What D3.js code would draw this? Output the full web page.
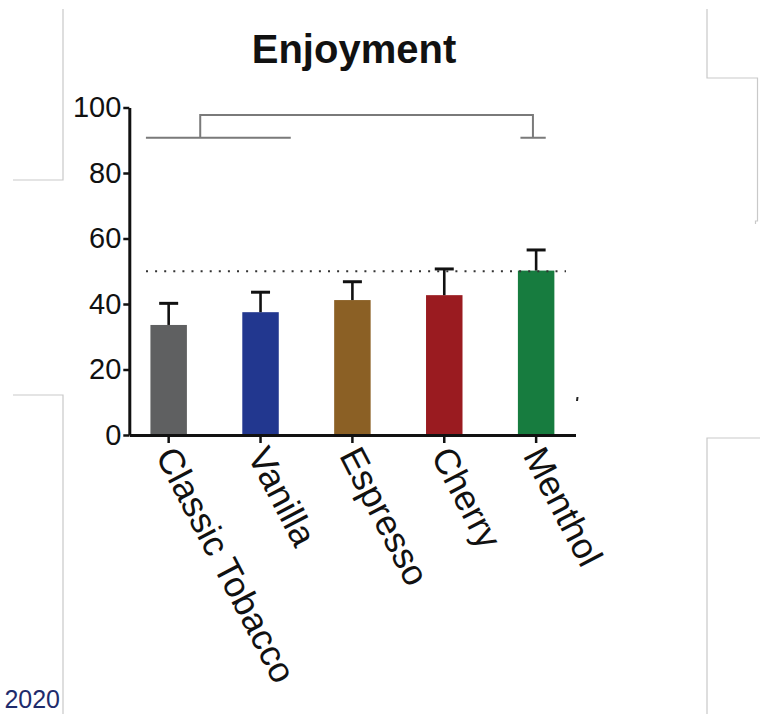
<!DOCTYPE html>
<html>
<head>
<meta charset="utf-8">
<script src="https://cdn.jsdelivr.net/npm/d3@7"></script>
<style>
  html, body { margin: 0; padding: 0; background: #fff; }
  svg { display: block; font-family: "Liberation Sans", Arial, Helvetica, sans-serif; }
</style>
</head>
<body>
<svg id="chart" width="760" height="714"></svg>
<script>
// Enjoyment ratings by flavour (mean with upper SEM bar)
const flavours = ["Classic Tobacco", "Vanilla", "Espresso", "Cherry", "Menthol"];
const means    = [33.6, 37.5, 41.2, 42.7, 50.2];
const upperErr = [40.2, 43.6, 46.8, 50.7, 56.5];
const colours  = ["#5f6061", "#22378f", "#8b6025", "#9a1b20", "#177c3f"];
const yTicks   = [0, 20, 40, 60, 80, 100];
const chanceLevel = 50;
// significance bracket: group (first two flavours) vs Menthol
const bracketLow = 90.8, bracketHigh = 97.7;

const svg = d3.select("#chart");

const x = d3.scaleBand()
  .domain(flavours)
  .range([129.3, 575.5])
  .paddingInner(0.603)
  .paddingOuter(0.23);

const y = d3.scaleLinear().domain([0, 100]).range([435, 107.5]);

const cx = d => x(d) + x.bandwidth() / 2;

// page frame fragments
const frame = svg.append("g").attr("fill", "none").attr("stroke", "#c9c9c9").attr("stroke-width", 1.2);
frame.append("path").attr("d", "M63,9V180H13");
frame.append("path").attr("d", "M13,395H63V714");
frame.append("path").attr("d", "M707,9V78H757.5V221H755.5V224");
frame.append("path").attr("d", "M760,438H707V714");

svg.append("text")
  .attr("x", 60).attr("y", 708)
  .attr("text-anchor", "end")
  .attr("font-size", 25)
  .attr("fill", "#1f2c6c")
  .text("2020");

// title
svg.append("text")
  .attr("x", 354).attr("y", 63)
  .attr("text-anchor", "middle")
  .attr("font-size", 40)
  .attr("font-weight", "bold")
  .attr("fill", "#111")
  .text("Enjoyment");

// bars
svg.append("g").selectAll("rect")
  .data(flavours)
  .join("rect")
  .attr("x", d => x(d))
  .attr("width", x.bandwidth())
  .attr("y", (d, i) => y(means[i]))
  .attr("height", (d, i) => y(0) - y(means[i]))
  .attr("fill", (d, i) => colours[i]);

// upper error bars
const err = svg.append("g").attr("stroke", "#111").attr("fill", "none");
err.selectAll("line.stem")
  .data(flavours)
  .join("line")
  .attr("class", "stem")
  .attr("x1", cx).attr("x2", cx)
  .attr("y1", (d, i) => y(means[i]))
  .attr("y2", (d, i) => y(upperErr[i]))
  .attr("stroke-width", 2.6);
err.selectAll("line.cap")
  .data(flavours)
  .join("line")
  .attr("class", "cap")
  .attr("x1", d => cx(d) - 9.5).attr("x2", d => cx(d) + 9.5)
  .attr("y1", (d, i) => y(upperErr[i]))
  .attr("y2", (d, i) => y(upperErr[i]))
  .attr("stroke-width", 3);

// chance level
svg.append("line")
  .attr("x1", 146).attr("x2", 566)
  .attr("y1", y(chanceLevel)).attr("y2", y(chanceLevel))
  .attr("stroke", "#333")
  .attr("stroke-width", 2)
  .attr("stroke-dasharray", "2,7.1");

// significance bracket
const gL = x(flavours[0]) - 4.5;
const gR = x(flavours[1]) + x.bandwidth() + 12;
const gMid = x(flavours[0]) + 49.8;
const mC = cx(flavours[4]) - 3.2;
svg.append("path")
  .attr("fill", "none")
  .attr("stroke", "#7a7a7a")
  .attr("stroke-width", 2)
  .attr("d", `M${gL},${y(bracketLow)}H${gR}` +
             `M${gMid},${y(bracketLow)}V${y(bracketHigh)}H${mC}V${y(bracketLow)}` +
             `M${mC - 12.5},${y(bracketLow)}H${mC + 12.8}`);

// y axis
const yAxis = svg.append("g")
  .attr("transform", `translate(${x.range()[0]},0)`)
  .call(d3.axisLeft(y).tickValues(yTicks).tickSize(6).tickSizeOuter(0).tickPadding(2));
yAxis.select(".domain").attr("stroke", "#111").attr("stroke-width", 3);
yAxis.selectAll(".tick line").attr("stroke", "#111").attr("stroke-width", 2.5);
yAxis.selectAll(".tick text")
  .attr("font-size", 29)
  .attr("font-family", "'Liberation Sans', Arial, Helvetica, sans-serif")
  .attr("fill", "#111");

// x axis
const xAxis = svg.append("g")
  .attr("transform", `translate(0,${y(0)})`)
  .call(d3.axisBottom(x).tickSize(8).tickSizeOuter(0).tickFormat(""));
xAxis.select(".domain").attr("stroke", "#111").attr("stroke-width", 3);
xAxis.selectAll(".tick line").attr("stroke", "#111").attr("stroke-width", 2.5);

svg.append("g").selectAll("text")
  .data(flavours)
  .join("text")
  .attr("transform", d => `translate(${cx(d)},445) rotate(62.5)`)
  .attr("x", 3)
  .attr("dy", 17)
  .attr("font-size", 36)
  .attr("fill", "#111")
  .text(d => d);

// small stray mark at the right of the plot
svg.append("line")
  .attr("x1", 577.5).attr("x2", 577)
  .attr("y1", 397).attr("y2", 401)
  .attr("stroke", "#222").attr("stroke-width", 2);
</script>
</body>
</html>
